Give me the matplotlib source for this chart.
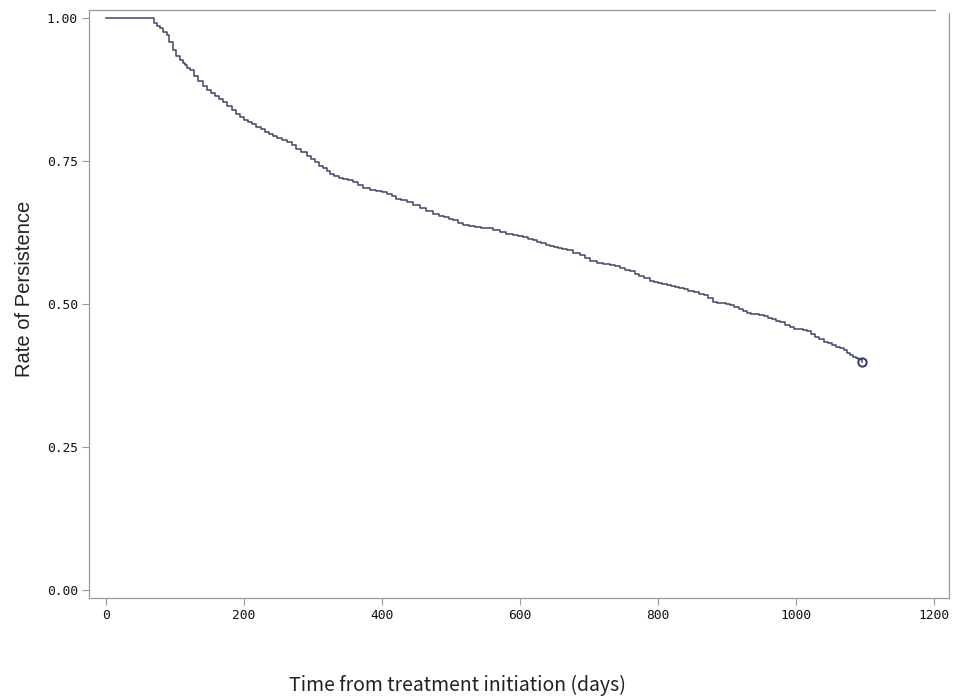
import matplotlib
matplotlib.use("Agg")
from matplotlib import pyplot as plt

# step points of the persistence curve
days = [0, 64, 70, 74, 78, 83, 88, 92, 97, 102, 107, 111, 115, 118, 122,
        128, 134, 140, 146, 152, 158, 164, 170, 176, 182, 188, 194,
        200, 206, 212, 218, 224, 230, 236, 242, 248, 255, 262,
        269, 276, 283, 291, 297, 303, 309, 315,
        320, 325, 331, 337, 344, 351, 358, 365, 373, 382, 392, 400, 407,
        414, 421, 428, 436, 445, 455, 464, 474, 482, 490, 497, 503,
        510, 518, 526, 535, 543, 552, 561, 571, 580, 590, 597, 605, 612, 619,
        625, 631, 637, 643, 649, 655, 661, 668, 677, 687, 694, 702, 711,
        720, 730, 737, 745, 752, 759, 766, 773, 780, 788, 794, 800, 806, 813,
        819, 825, 831, 837, 844, 852, 859, 866, 873, 880, 886, 892, 898, 904,
        910, 917, 923, 929, 935, 941, 947, 953, 959, 965, 971, 977, 984, 991,
        997, 1004, 1010, 1016,
        1022, 1028, 1034, 1040, 1046, 1052, 1058, 1064, 1069, 1074, 1078,
        1083, 1087, 1090, 1095]
rate = [1.0, 1.0, 0.991, 0.986, 0.982, 0.976, 0.970, 0.958, 0.944, 0.934,
        0.927, 0.922, 0.918, 0.913, 0.909,
        0.899, 0.890, 0.882, 0.874, 0.869, 0.864, 0.859, 0.854, 0.847, 0.840,
        0.833, 0.827,
        0.822, 0.818, 0.814, 0.810, 0.806, 0.801, 0.797, 0.793, 0.790, 0.787,
        0.784,
        0.778, 0.771, 0.765, 0.758, 0.753, 0.748, 0.742, 0.737,
        0.732, 0.728, 0.724, 0.721, 0.718, 0.716, 0.714, 0.708, 0.702, 0.700,
        0.698, 0.695, 0.693,
        0.688, 0.684, 0.681, 0.679, 0.673, 0.668, 0.662, 0.657, 0.654, 0.652,
        0.649, 0.647,
        0.642, 0.638, 0.636, 0.635, 0.633, 0.632, 0.629, 0.626, 0.623, 0.621,
        0.619, 0.617, 0.614, 0.612,
        0.609, 0.606, 0.603, 0.601, 0.600, 0.598, 0.596, 0.594, 0.590, 0.586,
        0.581, 0.576, 0.571,
        0.570, 0.569, 0.566, 0.563, 0.560, 0.557, 0.553, 0.549, 0.545, 0.541,
        0.539, 0.537, 0.535, 0.533,
        0.531, 0.530, 0.528, 0.526, 0.523, 0.521, 0.518, 0.516, 0.510, 0.504,
        0.502, 0.501, 0.500, 0.498,
        0.494, 0.491, 0.488, 0.485, 0.483, 0.482, 0.480, 0.479, 0.476, 0.474,
        0.471, 0.469, 0.464, 0.459, 0.457, 0.456, 0.454, 0.452,
        0.447, 0.443, 0.438, 0.434, 0.431, 0.428, 0.425, 0.423, 0.419, 0.415,
        0.411, 0.407, 0.405, 0.403, 0.399]
censor_day = [1095]
censor_rate = [0.399]

x_ticks = [0, 200, 400, 600, 800, 1000, 1200]
y_ticks = [0.0, 0.25, 0.5, 0.75, 1.0]
y_tick_labels = ["0.00", "0.25", "0.50", "0.75", "1.00"]

LINE = "#3d4766"
FRAME = "#9a9a9a"

fig = plt.figure(figsize=(9.57, 6.98), dpi=100)
ax = fig.add_axes([89 / 957, 100 / 698, 860 / 957, 588 / 698])

ax.step(days, rate, where="post", color=LINE, linewidth=1.1)
ax.plot(censor_day, censor_rate, "o", markersize=6, markerfacecolor="none",
        markeredgecolor="#2f3a70", markeredgewidth=1.4)

ax.set_xlim(-24.6, 1221.7)
ax.set_ylim(-0.014, 1.014)
ax.set_xticks(x_ticks)
ax.set_yticks(y_ticks)
ax.set_yticklabels(y_tick_labels)
ax.tick_params(direction="out", length=5, width=0.8, color=FRAME,
               labelsize=9.3, labelcolor="#111111", pad=3)
for lab in ax.get_xticklabels() + ax.get_yticklabels():
    lab.set_family("DejaVu Sans Mono")

for side in ["left", "bottom"]:
    ax.spines[side].set_color(FRAME)
    ax.spines[side].set_linewidth(0.9)
ax.spines["top"].set_visible(False)
ax.spines["right"].set_visible(False)
# the frame in the original is slightly broken at the top right corner
ax.plot([0, 846 / 860], [1, 1], transform=ax.transAxes, color=FRAME,
        linewidth=0.9, clip_on=False)
ax.plot([1, 1], [0, 585 / 588], transform=ax.transAxes, color=FRAME,
        linewidth=0.9, clip_on=False)

fig.text(0.026, 0.586, "Rate of Persistence", rotation=90, ha="center",
         va="center", fontsize=14.5, family="Liberation Sans", color="#222222")
fig.text(0.4775, 7 / 698, "Time from treatment initiation (days)", ha="center",
         va="baseline", fontsize=14, family=["Noto Sans CJK KR", "DejaVu Sans"],
         color="#222222")

fig.savefig("out.png", dpi=100)
